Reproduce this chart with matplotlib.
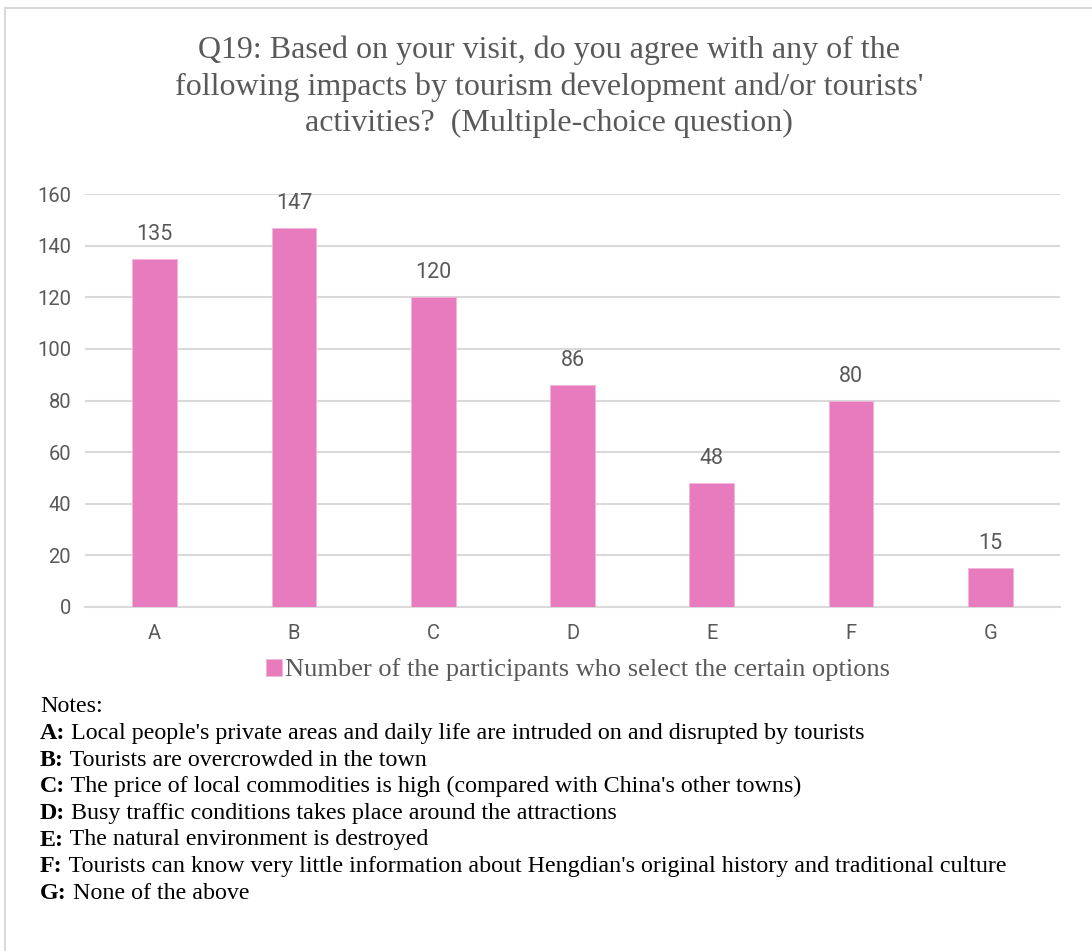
import matplotlib
matplotlib.use("Agg")
import matplotlib.pyplot as plt
from matplotlib.patches import Rectangle

categories = ["A", "B", "C", "D", "E", "F", "G"]
values = [135, 147, 120, 86, 48, 80, 15]
yticks = [0, 20, 40, 60, 80, 100, 120, 140, 160]
title = ("Q19: Based on your visit, do you agree with any of the\n"
         "following impacts by tourism development and/or tourists'\n"
         "activities?  (Multiple-choice question)")
legend_label = "Number of the participants who select the certain options"
note_header = "Notes:"
note_keys = ["A:", "B:", "C:", "D:", "E:", "F:", "G:"]
note_texts = [
    " Local people's private areas and daily life are intruded on and disrupted by tourists",
    " Tourists are overcrowded in the town",
    " The price of local commodities is high (compared with China's other towns)",
    " Busy traffic conditions takes place around the attractions",
    " The natural environment is destroyed",
    " Tourists can know very little information about Hengdian's original history and traditional culture",
    " None of the above",
]

BAR = "#E87BBE"
GRAY = "#595959"
GRID = "#D9D9D9"
SERIF = ["Liberation Serif", "DejaVu Serif"]
SANS = ["Roboto", "DejaVu Sans"]

W, H = 1092, 951
fig = plt.figure(figsize=(W / 100, H / 100), dpi=100)
fig.patch.set_facecolor("white")

# outer frame
fig.add_artist(Rectangle((5 / W, -0.1), 1.2, 1 - 8 / H + 0.1, transform=fig.transFigure,
                         fill=False, edgecolor=GRID, linewidth=1.5))

ax = fig.add_axes([85 / W, 1 - 607 / H, (1060 - 85) / W, (607 - 194) / H])
x = list(range(len(categories)))
bars = ax.bar(x, values, width=0.32, color=BAR, edgecolor="#F3B6DA", linewidth=0.6,
              zorder=3, label=legend_label)
ax.set_xlim(-0.5, len(categories) - 0.5)
ax.set_ylim(0, 160)
ax.set_yticks(yticks)
ax.set_xticks(x)
ax.set_xticklabels(categories)
for lab in ax.get_xticklabels() + ax.get_yticklabels():
    lab.set_family(SANS)
    lab.set_fontsize(14.5)
    lab.set_color(GRAY)
ax.tick_params(axis="both", length=0, pad=10)
ax.tick_params(axis="x", pad=12)
ax.grid(axis="y", color=GRID, linewidth=1.5, zorder=0)
for s in ["top", "right", "left"]:
    ax.spines[s].set_visible(False)
ax.spines["bottom"].set_color(GRID)
ax.spines["bottom"].set_linewidth(1.5)
ax.set_facecolor("none")

for xi, v in zip(x, values):
    ax.annotate(str(v), xy=(xi, v), xytext=(0, 10), textcoords="offset points",
                ha="center", va="bottom", fontsize=15.5, color=GRAY, family=SANS)

fig.text(549 / W, 1 - 87 / H, title, ha="center", va="center", fontsize=23,
         color=GRAY, family=SERIF, linespacing=1.32)

leg = fig.legend(handles=[bars], labels=[legend_label], loc="center",
                 bbox_to_anchor=(578 / W, 1 - 670 / H), frameon=False,
                 prop={"family": SERIF, "size": 19}, handlelength=0.6,
                 handleheight=0.6, handletextpad=0.1)
for t in leg.get_texts():
    t.set_color(GRAY)

y0 = 707
step = 26.6
FS = 17.3
fig.text(40 / W, 1 - y0 / H, note_header, ha="left", va="center", fontsize=FS,
         color="black", family=SERIF)
for i, (k, t) in enumerate(zip(note_keys, note_texts)):
    yc = 1 - (y0 + step * (i + 1)) / H
    kt = fig.text(40 / W, yc, k, ha="left", va="center", fontsize=FS,
                  color="black", family=SERIF, fontweight="bold")
    plt.annotate(t, xy=(1, 0.5), xycoords=kt, ha="left", va="center",
                 fontsize=FS, color="black", family=SERIF)

fig.savefig("out.png", dpi=100, facecolor="white")
